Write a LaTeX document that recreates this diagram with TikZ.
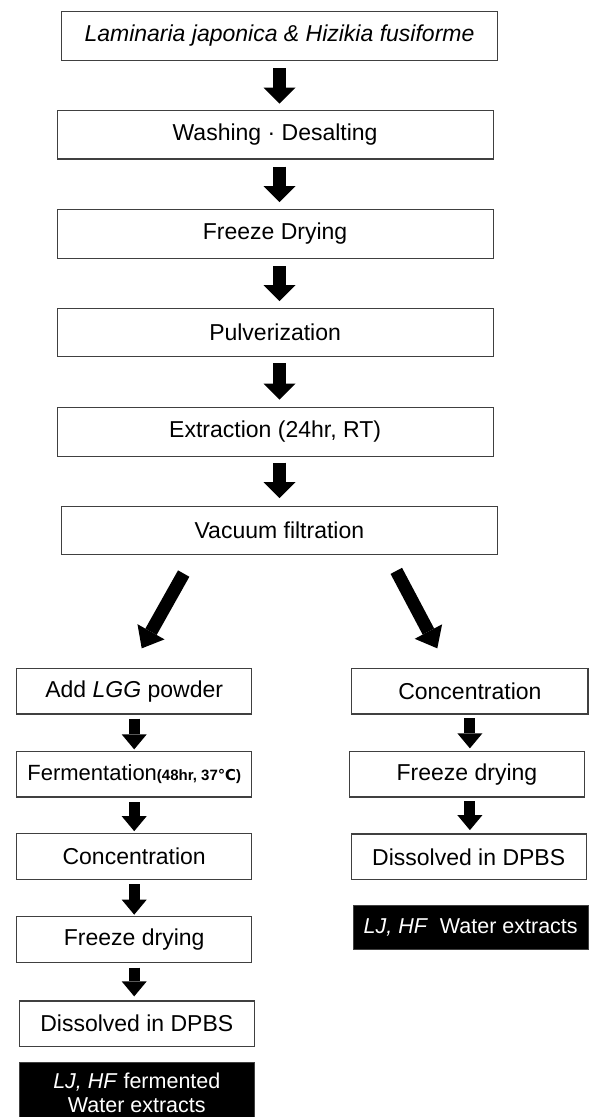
\documentclass[tikz,border=0pt]{standalone}
\usepackage{fontspec}
\setmainfont{Liberation Sans}
\newfontfamily\dejavu{DejaVu Sans}
\usetikzlibrary{arrows.meta,calc}
\begin{document}
\begin{tikzpicture}[x=1pt,y=-1pt,
  box/.style={draw=black!75, line width=1.2pt, minimum width=436pt, minimum height=48.5pt, inner sep=0pt, font=\fontsize{23}{27}\selectfont},
  sbox/.style={box, minimum width=235pt, minimum height=45.5pt},
  dbox/.style={fill=black, draw=black!75, line width=1pt, text=white, minimum width=235pt, inner sep=0pt, font=\fontsize{21.5}{23.5}\selectfont, align=center},
  bigarrow/.style={line width=12.7pt, -{Triangle[width=32pt,length=16pt,line width=0pt]}},
  smallarrow/.style={line width=11pt, -{Triangle[width=25pt,length=15pt,line width=0pt]}},
  diagarrow/.style={line width=13pt, -{Triangle[width=31pt,length=19pt,line width=0pt]}},
]
\useasboundingbox (0,0) rectangle (589,1117);
\begin{scope}
\clip (0,0) rectangle (589,1117);
% main column
\node[box] (b1) at (279.5,35.9) {\itshape Laminaria japonica \& Hizikia fusiforme};
\node[box] (b2) at (275.1,134.7) {Washing · Desalting};
\node[box] (b3) at (275.1,233.9) {Freeze Drying};
\node[box] (b4) at (275.1,332.5) {Pulverization};
\node[box] (b5) at (275.1,431.9) {Extraction (24hr, RT)};
\node[box] (b6) at (279.4,530.4) {Vacuum filtration};
% left column
\node[sbox] (l1) at (134.2,691.2) {Add \textit{LGG} powder};
\node[sbox] (l2) at (134.2,774.2) {\fontsize{22}{26}\selectfont Fermentation{\fontsize{15}{17}\selectfont\bfseries(48hr, 37{\dejavu ℃})}};
\node[sbox] (l3) at (134.2,856.5) {Concentration};
\node[sbox] (l4) at (134.2,939.5) {Freeze drying};
\node[sbox] (l5) at (136.8,1023.7) {Dissolved in DPBS};
\node[dbox, minimum height=60pt] (l6) at (136.8,1092.7) {\textit{LJ, HF} fermented\\Water extracts};
% right column
\node[sbox, minimum width=236.3pt] (r1) at (469.9,691.2) {Concentration};
\node[sbox] (r2) at (467,774.2) {Freeze drying};
\node[sbox] (r3) at (468.7,856.8) {Dissolved in DPBS};
\node[dbox, minimum height=44.4pt] (r4) at (470.7,927.5) {\textit{LJ, HF}\ \ Water extracts};
% main arrows
\draw[bigarrow] ($(b1.south)+(0,7.5)$) -- ($(b1.south |- b2.north)+(0,-6.3)$);
\draw[bigarrow] ($(b1.south |- b2.south)+(0,7)$) -- ($(b1.south |- b3.north)+(0,-7)$);
\draw[bigarrow] ($(b1.south |- b3.south)+(0,7.5)$) -- ($(b1.south |- b4.north)+(0,-6.5)$);
\draw[bigarrow] ($(b1.south |- b4.south)+(0,6)$) -- ($(b1.south |- b5.north)+(0,-7.5)$);
\draw[bigarrow] ($(b1.south |- b5.south)+(0,5.8)$) -- ($(b1.south |- b6.north)+(0,-7.5)$);
% diagonal arrows
\draw[diagarrow] ($(b6.south)+(-95.7,18.3)$) -- ($(l1.north)+(7.5,-19.5)$);
\draw[diagarrow] ($(b6.south)+(116.9,15.6)$) -- ($(r1.north)+(-32.6,-19.5)$);
% left arrows
\draw[smallarrow] ($(l1.south)+(0,4)$) -- ($(l2.north)+(0,-1.5)$);
\draw[smallarrow] ($(l2.south)+(0,4.8)$) -- ($(l3.north)+(0,-2)$);
\draw[smallarrow] ($(l3.south)+(0,4.5)$) -- ($(l4.north)+(0,-1.5)$);
\draw[smallarrow] ($(l4.south)+(0,4.7)$) -- ($(l4.south |- l5.north)+(0,-4)$);
% right arrows
\draw[smallarrow] ($(r1.south)+(0,3.7)$) -- ($(r1.south |- r2.north)+(0,-2.5)$);
\draw[smallarrow] ($(r1.south |- r2.south)+(0,3.8)$) -- ($(r1.south |- r3.north)+(0,-3.3)$);
\end{scope}
\end{tikzpicture}
\end{document}
